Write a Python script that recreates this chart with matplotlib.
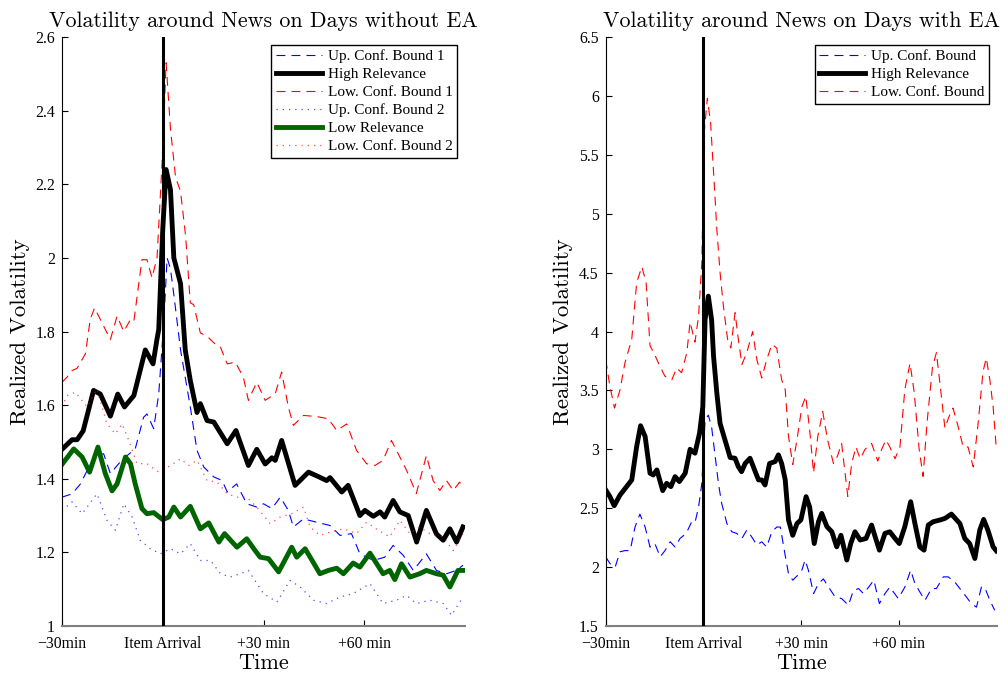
import matplotlib
matplotlib.use('Agg')
import matplotlib.pyplot as plt

plt.rcParams['font.family'] = ['Liberation Serif', 'DejaVu Serif']

# x in minutes relative to item arrival
xticks = [-30, 0, 30, 60]
xticklabels = ['\u221230min', 'Item Arrival', '+30 min', '+60 min']

# ---- left panel: days without EA ----
left_yticks = [1, 1.2, 1.4, 1.6, 1.8, 2, 2.2, 2.4, 2.6]
left_ylabels = ['1', '1.2', '1.4', '1.6', '1.8', '2', '2.2', '2.4', '2.6']

up1 = [(-30, 1.35), (-27, 1.359), (-24.5, 1.386), (-22, 1.432), (-19.6, 1.463), (-17.6, 1.468),
       (-15.6, 1.414), (-13.1, 1.441), (-10.6, 1.463), (-8.2, 1.481), (-5.7, 1.567), (-4.7, 1.576),
       (-2.7, 1.536), (-1.2, 1.63), (0.3, 1.823), (1.3, 2.0), (2.3, 1.97), (3.3, 1.9), (5.3, 1.75),
       (8.2, 1.595), (10.2, 1.477), (12.2, 1.432), (15.2, 1.405), (17.7, 1.395), (19.2, 1.364),
       (22, 1.386), (25, 1.332), (28, 1.323), (30, 1.332), (32.5, 1.319), (35, 1.35), (37.4, 1.314),
       (38.9, 1.269), (41.9, 1.291), (45.8, 1.282), (49.8, 1.273), (52.8, 1.246), (56.2, 1.251),
       (58.7, 1.196), (62.7, 1.178), (66.1, 1.187), (68.6, 1.219), (71.6, 1.192), (74.6, 1.151),
       (78.5, 1.196), (81.5, 1.151), (84.5, 1.142), (87.4, 1.151), (89.4, 1.165)]

high1 = [(-30, 1.48), (-27, 1.506), (-25.5, 1.506), (-23.7, 1.53), (-20.6, 1.64), (-18.6, 1.63),
         (-15.6, 1.57), (-13.4, 1.63), (-11.4, 1.595), (-8.6, 1.626), (-5.2, 1.75), (-2.9, 1.712),
         (-1.7, 1.78), (-1.2, 1.805), (0, 2.077), (1, 2.24), (2.3, 2.185), (3.3, 2.0), (5.3, 1.93),
         (6.7, 1.75), (8.2, 1.667), (10.2, 1.58), (11.2, 1.604), (13.2, 1.558), (15.2, 1.554),
         (19.2, 1.495), (21.8, 1.531), (25.5, 1.436), (28, 1.48), (30.5, 1.44), (32.5, 1.457),
         (33.5, 1.45), (35.4, 1.504), (39.4, 1.382), (43.4, 1.418), (46.3, 1.406), (48.8, 1.395),
         (49.8, 1.403), (53.3, 1.364), (55.2, 1.382), (58.7, 1.30), (60.2, 1.314), (62.7, 1.298),
         (64.7, 1.31), (66.1, 1.296), (68.6, 1.341), (70.6, 1.31), (73.1, 1.30), (75.6, 1.228),
         (78.5, 1.314), (81.5, 1.25), (83.5, 1.233), (85.5, 1.264), (87.5, 1.228), (89.4, 1.269)]

low1 = [(-30, 1.662), (-28.5, 1.676), (-27, 1.694), (-25.5, 1.70), (-23, 1.74), (-21.6, 1.833),
        (-20.3, 1.864), (-18.6, 1.833), (-15.6, 1.778), (-13.6, 1.842), (-11.6, 1.80), (-9.6, 1.833),
        (-8.6, 1.828), (-6.2, 1.995), (-4.7, 1.995), (-3.2, 1.946), (-1.7, 2.0), (-0.2, 2.258),
        (1, 2.53), (2.3, 2.35), (3.8, 2.22), (5.3, 2.18), (6.8, 2.06), (8.2, 1.878), (9.2, 1.873),
        (11.2, 1.796), (13.2, 1.787), (15.7, 1.765), (17.2, 1.757), (19.2, 1.712), (21.6, 1.717),
        (24, 1.676), (25.5, 1.613), (28, 1.662), (30.5, 1.613), (33.5, 1.631), (35.4, 1.69),
        (37.4, 1.595), (38.9, 1.545), (41.9, 1.572), (45.8, 1.569), (49.3, 1.563), (51.8, 1.531),
        (54.8, 1.549), (57.7, 1.477), (60.7, 1.441), (63.2, 1.436), (65.6, 1.45), (68.1, 1.504),
        (70.6, 1.459), (72.6, 1.423), (75.5, 1.36), (78.5, 1.463), (80.5, 1.395), (82.5, 1.368),
        (84.5, 1.395), (86.5, 1.368), (88.4, 1.391), (89.4, 1.377)]

up2 = [(-30, 1.314), (-27, 1.337), (-24, 1.305), (-19.6, 1.359), (-16.6, 1.287), (-14.1, 1.26),
       (-11.6, 1.332), (-9.1, 1.296), (-6.7, 1.233), (-3.7, 1.21), (-0.7, 1.196), (2.3, 1.21),
       (5.3, 1.196), (8.2, 1.224), (11.2, 1.178), (14.2, 1.178), (17.2, 1.142), (20.1, 1.133),
       (23.1, 1.142), (25.5, 1.151), (30, 1.088), (34, 1.065), (37.9, 1.124), (40.9, 1.106),
       (44.9, 1.07), (48.8, 1.061), (52.8, 1.079), (56.7, 1.088), (61.7, 1.115), (65.6, 1.061),
       (69.6, 1.07), (72.6, 1.083), (75.5, 1.061), (79.5, 1.07), (83.5, 1.061), (86, 1.029),
       (89.4, 1.079)]

lowrel = [(-30, 1.439), (-26.5, 1.481), (-24, 1.459), (-21.8, 1.418), (-19.3, 1.486), (-17.1, 1.414),
          (-15.1, 1.367), (-13.6, 1.386), (-11.1, 1.459), (-9.6, 1.441), (-8.2, 1.386), (-6.2, 1.319),
          (-4.7, 1.305), (-2.7, 1.308), (0, 1.289), (1.8, 1.296), (3.3, 1.323), (5.3, 1.296),
          (8.2, 1.325), (11.2, 1.264), (13.7, 1.28), (16.7, 1.228), (18.4, 1.251), (22.1, 1.214),
          (25, 1.237), (27.5, 1.205), (29, 1.187), (31.5, 1.183), (34.5, 1.147), (38.4, 1.214),
          (39.9, 1.187), (42.4, 1.21), (46.8, 1.142), (49.3, 1.151), (51.8, 1.157), (53.8, 1.142),
          (56.7, 1.171), (58.7, 1.16), (61.7, 1.198), (65.6, 1.142), (67.6, 1.151), (69.1, 1.126),
          (71.1, 1.169), (73.6, 1.133), (76.5, 1.142), (78.5, 1.151), (81.5, 1.142), (83.5, 1.138),
          (85.5, 1.106), (87.9, 1.151), (89.4, 1.151)]

low2 = [(-30, 1.595), (-28.5, 1.626), (-26, 1.635), (-22.5, 1.595), (-19.6, 1.644), (-16.6, 1.549),
        (-14.1, 1.522), (-12.1, 1.549), (-10.1, 1.504), (-7.7, 1.441), (-4.7, 1.441), (-1.2, 1.418),
        (2.3, 1.436), (5.3, 1.454), (7.7, 1.436), (10.2, 1.45), (13.2, 1.395), (16.2, 1.391),
        (19.2, 1.359), (22.1, 1.35), (25, 1.35), (28, 1.323), (32, 1.278), (35, 1.296), (38.4, 1.305),
        (41.9, 1.323), (43.9, 1.269), (46.8, 1.246), (49.8, 1.255), (53.8, 1.264), (57.7, 1.251),
        (60.7, 1.282), (64.2, 1.26), (67.6, 1.242), (70.6, 1.287), (73.6, 1.251), (76.5, 1.269),
        (79.5, 1.251), (83.5, 1.242), (86.5, 1.205), (89.4, 1.251)]

# ---- right panel: days with EA ----
right_yticks = [1.5, 2, 2.5, 3, 3.5, 4, 4.5, 5, 5.5, 6, 6.5]
right_ylabels = ['1.5', '2', '2.5', '3', '3.5', '4', '4.5', '5', '5.5', '6', '6.5']

up_ea = [(-30, 2.087), (-28.7, 2.03), (-27.1, 2.0), (-25.6, 2.13), (-24.1, 2.14), (-22.5, 2.14),
         (-21, 2.34), (-19.5, 2.45), (-17.9, 2.34), (-16.4, 2.17), (-14.9, 2.2), (-13.3, 2.087),
         (-11.8, 2.14), (-10.2, 2.215), (-8.7, 2.17), (-7.2, 2.243), (-5.3, 2.286), (-3.6, 2.385),
         (-2.6, 2.377), (-1.5, 2.51), (-0.5, 2.71), (0.5, 3.25), (1.5, 3.29), (2.5, 3.19), (3.6, 2.94),
         (4.6, 2.71), (5.6, 2.54), (7.2, 2.37), (8.7, 2.3), (10.2, 2.286), (11.8, 2.243), (13.3, 2.314),
         (14.8, 2.257), (16.4, 2.187), (17.9, 2.215), (19.4, 2.17), (21, 2.3), (22.5, 2.34),
         (23.6, 2.34), (24.8, 2.144), (26.1, 1.945), (27.4, 1.889), (28.9, 1.93), (30.2, 1.974),
         (31.2, 2.06), (32.2, 1.974), (33.8, 1.775), (35.3, 1.86), (36.8, 1.9), (38.4, 1.83),
         (40.4, 1.747), (42.4, 1.733), (44.5, 1.676), (46, 1.8), (47.6, 1.818), (49.1, 1.775),
         (50.7, 1.83), (52.3, 1.889), (54, 1.69), (55.7, 1.775), (57.2, 1.83), (59.8, 1.733),
         (61.8, 1.83), (63.6, 1.974), (64.9, 1.86), (66.4, 1.79), (68, 1.718), (70, 1.818),
         (71.5, 1.818), (73.6, 1.917), (75.1, 1.917), (77.1, 1.875), (79.2, 1.8), (80.7, 1.747),
         (82.2, 1.69), (83.8, 1.66), (85.3, 1.83), (86.3, 1.83), (87.9, 1.718), (89.4, 1.633)]

high_ea = [(-30, 2.655), (-28.7, 2.598), (-27.4, 2.521), (-25.6, 2.612), (-23.6, 2.683), (-22, 2.74),
           (-20.5, 3.023), (-19.3, 3.2), (-17.9, 3.109), (-16.4, 2.797), (-15.4, 2.782), (-14.3, 2.825),
           (-12.5, 2.649), (-11.3, 2.711), (-10, 2.683), (-8.7, 2.768), (-7.4, 2.726), (-5.6, 2.797),
           (-4.1, 3.0), (-2.6, 2.967), (-1.2, 3.137), (-0.2, 3.36), (0.5, 4.10), (1.5, 4.30), (2.5, 4.1),
           (3.1, 3.79), (4.1, 3.48), (5.1, 3.22), (6.6, 3.08), (8.2, 2.93), (9.7, 2.924), (10.7, 2.853),
           (11.7, 2.81), (12.8, 2.88), (14.3, 2.924), (15.9, 2.81), (16.9, 2.74), (17.9, 2.74),
           (18.9, 2.697), (20.3, 2.88), (22, 2.896), (23, 2.953), (24, 2.88), (25.1, 2.74), (26.1, 2.4),
           (27.4, 2.27), (28.7, 2.37), (29.9, 2.4), (31.5, 2.598), (32.6, 2.51), (34, 2.2), (35.3, 2.385),
           (36.3, 2.456), (37.9, 2.343), (39.4, 2.3), (40.9, 2.172), (42.2, 2.27), (44, 2.06), (45.2, 2.2),
           (46.5, 2.3), (48.1, 2.23), (49.9, 2.243), (51.6, 2.357), (52.7, 2.257), (54, 2.144),
           (55.7, 2.286), (57.2, 2.3), (58.8, 2.243), (60.1, 2.2), (61.8, 2.343), (63.6, 2.555),
           (64.9, 2.37), (66.4, 2.172), (67.7, 2.144), (69, 2.357), (70.5, 2.385), (72.6, 2.4),
           (74.1, 2.413), (76.1, 2.45), (78.7, 2.37), (80.2, 2.243), (81.7, 2.2), (83.3, 2.073),
           (84.8, 2.314), (86, 2.405), (87.3, 2.314), (88.9, 2.172), (89.9, 2.138)]

low_ea = [(-30, 3.76), (-28.7, 3.534), (-27.3, 3.35), (-25.6, 3.506), (-24.1, 3.733), (-22, 3.935),
          (-20.5, 4.415), (-18.9, 4.55), (-17.6, 4.415), (-16.4, 3.88), (-14.9, 3.80), (-13.3, 3.70),
          (-11.8, 3.62), (-9.7, 3.59), (-8.2, 3.69), (-6.7, 3.65), (-5.1, 3.82), (-4.1, 4.08),
          (-2.6, 3.91), (-1.5, 4.13), (-0.5, 4.585), (0.3, 5.71), (1.2, 5.98), (2.2, 5.77), (3.3, 5.26),
          (4.1, 4.87), (5.1, 4.5), (6.1, 4.22), (7.4, 3.935), (8.4, 3.86), (9.7, 4.16), (10.7, 3.935),
          (11.8, 3.72), (13.3, 3.82), (15.1, 4.0), (16.4, 3.76), (17.9, 3.605), (19.4, 3.76), (21, 3.89),
          (22.5, 3.86), (24, 3.59), (25.1, 3.506), (26.1, 3.11), (27.4, 2.87), (28.7, 3.08), (30.2, 3.36),
          (31.4, 3.45), (32.6, 3.165), (33.8, 2.8), (35.1, 3.11), (36.6, 3.32), (38.1, 3.08), (39.9, 2.88),
          (41.1, 2.94), (42.4, 3.05), (44.3, 2.6), (45.5, 2.88), (46.8, 3.02), (48.1, 2.92), (49.6, 3.0),
          (51.6, 3.05), (53.5, 2.9), (54.7, 3.0), (56, 3.08), (57.2, 3.02), (58.8, 2.92), (60.3, 3.02),
          (61.8, 3.506), (63.4, 3.73), (64.7, 3.48), (66.2, 3.0), (67.4, 2.77), (68.6, 3.22), (70.3, 3.70),
          (71.5, 3.82), (72.8, 3.506), (74.1, 3.18), (75.4, 3.28), (76.6, 3.35), (78.2, 3.19), (79.7, 3.02),
          (81.2, 3.02), (82.8, 2.85), (84.3, 3.22), (85.8, 3.66), (86.8, 3.775), (87.9, 3.59), (88.9, 3.36),
          (89.9, 3.0)]

GREEN = '#006400'
DASH = (0, (8, 5.5))
DOT = (0, (1, 4))


def xy(pairs):
    return [p[0] for p in pairs], [p[1] for p in pairs]


def setup(ax, yticks, ylabels, title):
    ax.set_xlim(-30, 90)
    ax.set_ylim(yticks[0], yticks[-1])
    ax.set_xticks(xticks)
    ax.set_xticklabels(xticklabels, fontsize=11.3)
    ax.set_yticks(yticks)
    ax.set_yticklabels(ylabels, fontsize=11.3)
    ax.tick_params(direction='in', length=4, width=0.8, colors='k')
    ax.tick_params(axis='x', pad=7)
    ax.tick_params(axis='y', pad=5)
    ax.spines['top'].set_visible(False)
    ax.spines['right'].set_visible(False)
    ax.spines['left'].set_linewidth(0.8)
    ax.spines['bottom'].set_color('0.5')
    ax.spines['bottom'].set_linewidth(1.5)
    ax.axvline(0, color='k', lw=2.2, zorder=5)
    ax.set_title(title, family='cmr10', fontsize=15.8, pad=7)
    ax.set_xlabel('Time', family='cmr10', fontsize=16, labelpad=1)
    ax.set_ylabel('Realized Volatility', family='cmr10', fontsize=16.5, labelpad=4)


def legend(ax):
    leg = ax.legend(loc='upper right', fontsize=11, fancybox=False, edgecolor='k', framealpha=1,
                    borderaxespad=0.5, handlelength=3.0, handletextpad=0.4, labelspacing=0.28,
                    borderpad=0.3)
    leg.get_frame().set_linewidth(1.0)


fig = plt.figure(figsize=(10.08, 6.73), dpi=100)
ax1 = fig.add_axes([62 / 1008, 47 / 673, 403 / 1008, 589 / 673])
ax2 = fig.add_axes([605.7 / 1008, 47 / 673, 391 / 1008, 589 / 673])

ax1.plot(*xy(up1), color='b', lw=0.8, ls=DASH, label='Up. Conf. Bound 1')
ax1.plot(*xy(high1), color='k', lw=3.5, label='High Relevance')
ax1.plot(*xy(low1), color='r', lw=0.8, ls=DASH, label='Low. Conf. Bound 1')
ax1.plot(*xy(up2), color='b', lw=0.9, ls=DOT, alpha=0.7, label='Up. Conf. Bound 2')
ax1.plot(*xy(lowrel), color=GREEN, lw=3.5, label='Low Relevance')
ax1.plot(*xy(low2), color='r', lw=0.9, ls=DOT, alpha=0.7, label='Low. Conf. Bound 2')
setup(ax1, left_yticks, left_ylabels, 'Volatility around News on Days without EA')
legend(ax1)

ax2.plot(*xy(up_ea), color='b', lw=0.8, ls=DASH, label='Up. Conf. Bound')
ax2.plot(*xy(high_ea), color='k', lw=3.5, label='High Relevance')
ax2.plot(*xy(low_ea), color='r', lw=0.8, ls=DASH, label='Low. Conf. Bound')
setup(ax2, right_yticks, right_ylabels, 'Volatility around News on Days with EA')
legend(ax2)

fig.savefig('out.png', dpi=100)
